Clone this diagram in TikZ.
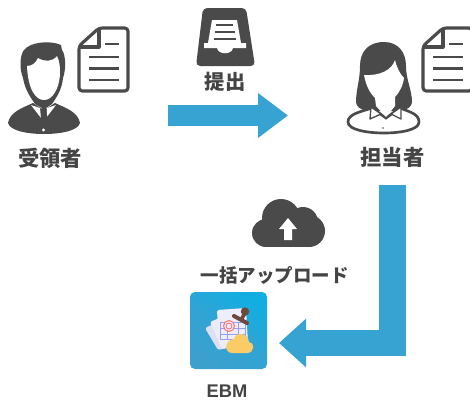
\documentclass[tikz,border=0pt]{standalone}
\usepackage{fontspec}
\setmainfont{Liberation Sans}
\newfontfamily\cjkfont{Noto Sans CJK JP}
\usetikzlibrary{positioning}
\usetikzlibrary{arrows.meta}
\definecolor{icongray}{HTML}{4A4A4A}
\definecolor{textgray}{HTML}{444444}
\definecolor{arrowblue}{HTML}{36A3D2}
\definecolor{ebmtop}{HTML}{12AEE2}
\definecolor{ebmbottom}{HTML}{3CA0CE}
\definecolor{paperlav}{HTML}{EEEEFA}
\definecolor{paperback}{HTML}{DDDFF3}
\definecolor{stampbrown}{HTML}{6E4A3E}
\definecolor{cloudyellow}{HTML}{FBCB66}
\tikzset{
    mylabel/.style = {inner sep=0pt,text=textgray,font=\cjkfont\bfseries\fontsize{12.8pt}{12.8pt}\selectfont},
    mylabelm/.style = {inner sep=0pt,text=textgray,font=\cjkfont\bfseries\fontsize{12.2pt}{12.2pt}\selectfont},
    mylabels/.style = {inner sep=0pt,text=textgray,font=\cjkfont\bfseries\fontsize{11.1pt}{11.1pt}\selectfont},
    mylabele/.style = {inner sep=0pt,text=textgray,font=\bfseries\fontsize{11pt}{11pt}\selectfont},
    ebmbox/.style = {rectangle,rounded corners=3pt,minimum size=46.2pt,inner sep=0pt,top color=ebmtop,bottom color=ebmbottom,middle color=ebmbottom!70!ebmtop,shading angle=-35},
    edgea/.style = {line width=12.6pt,arrowblue,-{Triangle[length=18pt,width=25.8pt]}},
    edgeb/.style = {line width=16pt,arrowblue,-{Triangle[length=16.2pt,width=28.2pt]}},
    darkfill/.style = {fill=icongray,draw=none},
    whitefill/.style = {fill=white,draw=none},
    docline/.style = {line width=1.5pt,icongray},
    docicon/.pic = {
        \draw[icongray,line width=1.9pt,line join=round,rounded corners=2pt] (0,18) -- (20,0) -- (49,0) -- (49,63) -- (0,63) -- cycle;
        \draw[icongray,line width=1.9pt,line join=round] (20,0) -- (20,19) -- (0,19);
        \draw[docline] (26,16) -- (40,16);
        \draw[docline] (10,29) -- (40,29);
        \draw[docline] (10,40.5) -- (40,40.5);
        \draw[docline] (10,52) -- (40,52);
    }
}

\begin{document}
\begin{tikzpicture}[x=0.6pt,y=-0.6pt]
\useasboundingbox (0,0) rectangle (470,399);
% receiver
\fill[darkfill] (8,123) .. controls (10,112) and (22,108) .. (33,103) -- (44,110) -- (55,103) .. controls (66,108) and (78,112) .. (80,123) .. controls (78,131) and (60,134) .. (44,134) .. controls (28,134) and (10,131) .. (8,123) -- cycle;
\fill[whitefill] (31,105) -- (40,108) -- (41,118) -- cycle;
\fill[whitefill] (56,105) -- (47,108) -- (46,118) -- cycle;
\fill[whitefill] (43.5,122) circle (1.6);
\fill[whitefill] (43.5,130) circle (1.6);
\fill[darkfill] (23,78) .. controls (19,68) and (20,55) .. (24,50) .. controls (30,42) and (50,40) .. (61,45) -- (62,50) .. controls (66,55) and (66,70) .. (63,78) .. controls (62,90) and (56,98) .. (52,104) -- (46,108) -- (48,122) -- (44,126) -- (40,122) -- (42,108) -- (35,104) .. controls (31,98) and (25,90) .. (23,78) -- cycle;
\fill[whitefill] (27,66) .. controls (33,66) and (36,62) .. (38,58) .. controls (45,62) and (52,62) .. (57,56) .. controls (60,62) and (60,68) .. (60,74) .. controls (59,90) and (52,100) .. (44,100) .. controls (36,100) and (28,90) .. (27,66) -- cycle;
\pic at (79,28) {docicon};
% inbox
\fill[darkfill,rounded corners=2.5pt] (203,8) -- (246,8) -- (255,66) -- (196,66) -- cycle;
\fill[whitefill] (212,20) -- (237,20) -- (241,43) -- (246,43) -- (246,48) -- (233,48) .. controls (232,55) and (218,55) .. (217,48) -- (204,48) -- (204,43) -- (208,43) -- cycle;
\draw[docline] (216,25) -- (233,25);
\draw[docline] (215,32) -- (235,32);
\draw[docline] (214,39) -- (236,39);
\node[mylabelm] at (225,82) (lbsubmit) {提出};
% first arrow
\coordinate (arrs) at (168,115.5);
\coordinate (arre) at (288,115.5);
\draw[edgea] (arrs) -- (arre);
% person in charge
\fill[darkfill] (384,42) .. controls (368,42) and (360,52) .. (360,66) .. controls (360,80) and (356,90) .. (356,102) .. controls (356,106) and (360,110) .. (368,111) -- (400,111) .. controls (408,110) and (412,106) .. (412,102) .. controls (412,90) and (406,80) .. (406,66) .. controls (406,52) and (398,42) .. (384,42) -- cycle;
\draw[icongray,fill=white,line width=1.6pt] (348,122) .. controls (348,114) and (360,112) .. (372,108) -- (386,118) -- (400,108) .. controls (410,112) and (419,114) .. (419,122) .. controls (419,130) and (400,133) .. (384,133) .. controls (368,133) and (348,130) .. (348,122) -- cycle;
\draw[icongray,fill=white,line width=0.8pt,line join=round] (371,107) -- (370,119) -- (381,114) -- cycle;
\draw[icongray,fill=white,line width=0.8pt,line join=round] (401,107) -- (401,119) -- (391,114) -- cycle;
\fill[whitefill] (364,75) .. controls (380,76) and (392,70) .. (395,60) .. controls (397,68) and (400,74) .. (404,78) .. controls (403,86) and (399,93) .. (395,97) -- (395,106) -- (386,117) -- (376,106) -- (375,98) .. controls (369,92) and (366,85) .. (364,75) -- cycle;
\fill[icongray] (383,128) circle (0.9);
\pic at (423,28) {docicon};
\node[mylabel] at (392.5,157) (lbstaff) {担当者};
\node[mylabel] at (50,158) (lbrecv) {受領者};
% second arrow
\coordinate (elbs) at (392.5,185);
\coordinate (elbe) at (279,343);
\draw[edgeb] (elbs) |- (elbe);
% cloud
\fill[darkfill] (281,218) circle (19);
\fill[darkfill] (303,222) circle (15);
\fill[darkfill] (266,233) circle (14);
\fill[darkfill] (309,231) circle (16);
\fill[darkfill] (266,225) rectangle (309,247);
\fill[whitefill] (288,218) -- (297,229) -- (292,229) -- (292,240) -- (284,240) -- (284,229) -- (279,229) -- cycle;
\node[mylabels] at (274.5,275) (lbupload) {一括アップロード};
% ebm
\node[ebmbox] at (228.5,330.5) (ebm) {};
\fill[paperback,rounded corners=1pt] (205,328) -- (220,321) -- (240,345) -- (218,350) -- cycle;
\fill[paperlav!80!paperback,rounded corners=1pt] (210,322) -- (224,316) -- (240,345) -- (222,349) -- cycle;
\fill[paperlav,rounded corners=1pt] (217,310) -- (246,308) -- (248,343) -- (219,345) -- cycle;
\draw[paperback!70!blue,line width=0.4pt] (220,322) rectangle (245,339);
\draw[paperback!70!blue,line width=0.4pt] (220,328) -- (245,328) (220,334) -- (245,334) (227,322) -- (227,339) (238,322) -- (238,339);
\draw[red!55,fill=paperlav,line width=0.6pt] (229,326) circle (5.5);
\draw[red!55,line width=0.5pt] (229,326) circle (3);
\draw[stampbrown,line width=2.4pt,line cap=round] (234,316) -- (247,323);
\draw[stampbrown,line width=2.2pt] (245,313) -- (241,320);
\fill[stampbrown] (245,311.5) circle (4.2);
\fill[cloudyellow] (232,353) -- (247,353) .. controls (255,353) and (255,342) .. (249,342) .. controls (248,332) and (235,332) .. (234,339) .. controls (224,340) and (224,353) .. (232,353) -- cycle;
\node[mylabele] at (227,391) (lbebm) {EBM};

\end{tikzpicture}
\end{document}
